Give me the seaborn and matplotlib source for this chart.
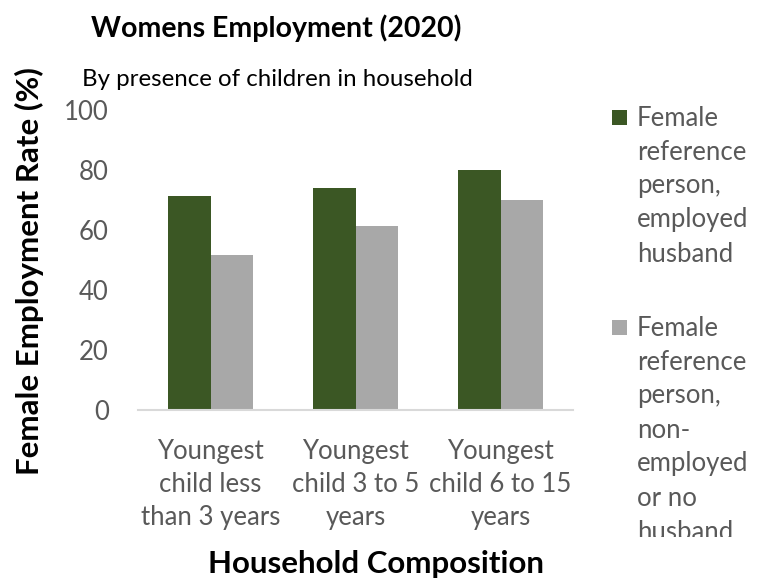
import matplotlib
matplotlib.use("Agg")
import matplotlib.pyplot as plt
from matplotlib.patches import Rectangle
from matplotlib.transforms import Bbox
import seaborn as sns
import pandas as pd

# Data
categories = ["Youngest\nchild less\nthan 3 years",
              "Youngest\nchild 3 to 5\nyears",
              "Youngest\nchild 6 to 15\nyears"]
employed_husband = [71.2, 73.9, 79.9]
nonemployed_or_no_husband = [51.7, 61.2, 69.9]
series_names = ["Female reference person, employed husband",
                "Female reference person, non-employed or no husband"]
legend_lines = [["Female", "reference", "person,", "employed", "husband"],
                ["Female", "reference", "person,", "non-", "employed", "or no", "husband"]]
y_ticks = [0, 20, 40, 60, 80, 100]

colors = ["#3B5724", "#A8A8A8"]
text_gray = "#595959"

df = pd.DataFrame({
    "Household Composition": categories * 2,
    "Rate": employed_husband + nonemployed_or_no_husband,
    "Series": [series_names[0]] * 3 + [series_names[1]] * 3,
})

sns.set_theme(style="white")
plt.rcParams["font.family"] = ["Lato", "DejaVu Sans"]

W, H = 767, 581
fig = plt.figure(figsize=(W / 100, H / 100), dpi=100)
ax = fig.add_axes([138 / W, 1 - 409.5 / H, 435 / W, 299.5 / H])

sns.barplot(data=df, x="Household Composition", y="Rate", hue="Series",
            palette=colors, width=0.58, gap=0, ax=ax, legend=False,
            saturation=1, edgecolor="none", linewidth=0)

ax.set_ylim(0, 100)
ax.set_xlim(-0.5, 2.5)
ax.set_yticks(y_ticks)
ax.set_yticklabels([str(v) for v in y_ticks], fontsize=18.5, color=text_gray)
ax.tick_params(axis="x", labelsize=18.5, labelcolor=text_gray, length=0, pad=21)
ax.tick_params(axis="y", length=0, pad=21)
for lab in ax.get_xticklabels():
    lab.set_linespacing(1.42)
ax.set_xlabel("")
ax.set_ylabel("")
for s in ["top", "right", "left"]:
    ax.spines[s].set_visible(False)
ax.spines["bottom"].set_color("#D9D9D9")
ax.spines["bottom"].set_linewidth(1.5)

# Titles and axis titles
fig.text(276 / W, 1 - 28 / H, "Womens Employment (2020)", ha="center", va="center",
         fontsize=20.5, fontweight="bold", color="black")
fig.text(277 / W, 1 - 80 / H, "By presence of children in household", ha="center",
         va="center", fontsize=17.3, color="black")
fig.text(376 / W, 1 - 564 / H, "Household Composition", ha="center", va="center",
         fontsize=22.5, fontweight="bold", color="black")
fig.text(29 / W, 1 - 271 / H, "Female Employment Rate (%)", ha="center", va="center",
         rotation=90, fontsize=22.5, fontweight="bold", color="black")

# Legend, clipped at the bottom of its box
clip = Bbox.from_extents(0, H - 537, W, H)
line_h = 34
starts = [118, 328]
for color, lines, y0 in zip(colors, legend_lines, starts):
    fig.patches.append(Rectangle((612 / W, 1 - (y0 + 7) / H), 15 / W, 15 / H,
                                 transform=fig.transFigure, facecolor=color,
                                 edgecolor="none"))
    for i, ln in enumerate(lines):
        t = fig.text(637 / W, 1 - (y0 + i * line_h) / H, ln, ha="left", va="center",
                     fontsize=18.5, color=text_gray)
        t.set_clip_box(clip)
        t.set_clip_on(True)

fig.savefig("out.png", dpi=100)
